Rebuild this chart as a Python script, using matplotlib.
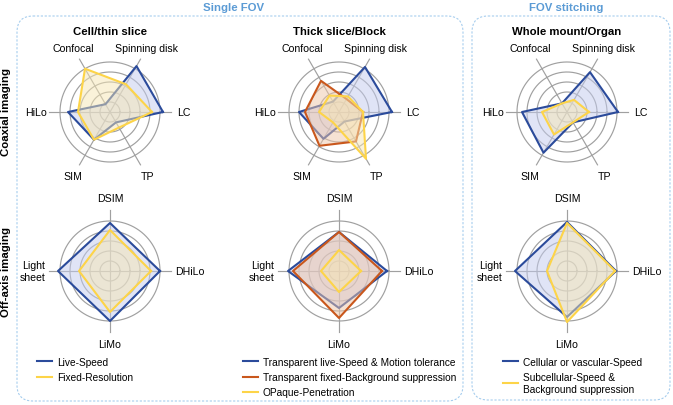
import matplotlib.pyplot as plt
import numpy as np
from matplotlib.patches import FancyBboxPatch

plt.rcParams['font.family'] = ['Liberation Sans', 'DejaVu Sans']

# axes of the radar charts
coax_labels = ['LC', 'Spinning disk', 'Confocal', 'HiLo', 'SIM', 'TP']
offaxis_labels = ['DHiLo', 'DSIM', 'Light\nsheet', 'LiMo']
ring_levels = [1, 2, 3, 4, 5]

# Cell/thin slice
cell_coax_live = [5.3, 5.3, 0.9, 4.2, 3.2, 1.2]
cell_coax_fixed = [4.2, 3.2, 5.0, 3.2, 3.2, 1.8]
cell_off_live = [5.0, 4.8, 5.2, 5.0]
cell_off_fixed = [4.1, 4.1, 3.1, 4.1]

# Thick slice/Block
thick_coax_live = [5.3, 5.2, 1.2, 4.0, 3.1, 1.1]
thick_coax_fixed = [2.4, 1.5, 3.6, 3.4, 3.9, 3.4]
thick_coax_opaque = [2.4, 1.8, 1.9, 2.0, 1.2, 5.4]
thick_off_live = [4.8, 3.9, 5.1, 3.7]
thick_off_fixed = [4.3, 3.9, 4.6, 4.7]
thick_off_opaque = [2.2, 2.1, 1.8, 2.1]

# Whole mount/Organ
whole_coax_cell = [5.1, 4.6, 1.0, 4.5, 4.7, 1.2]
whole_coax_sub = [2.2, 1.4, 1.0, 2.5, 2.6, 1.2]
whole_off_cell = [4.9, 4.9, 5.2, 4.6]
whole_off_sub = [4.8, 4.8, 2.0, 5.1]

legend_cell = ['Live-Speed', 'Fixed-Resolution']
legend_thick = ['Transparent live-Speed & Motion tolerance',
                'Transparent fixed-Background suppression',
                'OPaque-Penetration']
legend_whole = ['Cellular or vascular-Speed',
                'Subcellular-Speed &\nBackground suppression']

BLUE = ('#2b4b9b', '#c3cbee')
YELLOW = ('#fdd448', '#f6e6b4')
ORANGE = ('#c9571c', '#efc6a8')

W, H = 673, 406
fig = plt.figure(figsize=(W / 100, H / 100), dpi=100)

# background axes in pixel units for boxes and headings
bg = fig.add_axes([0, 0, 1, 1])
bg.set_xlim(0, W)
bg.set_ylim(H, 0)
bg.axis('off')

box_kw = dict(boxstyle='round,pad=0,rounding_size=16', fill=False,
              ec='#a6cdee', lw=0.8, ls=(0, (2, 1.5)))
bg.add_patch(FancyBboxPatch((17, 17), 446, 385, **box_kw))
bg.add_patch(FancyBboxPatch((472, 17), 198, 384, **box_kw))

bg.text(234, 8, 'Single FOV', ha='center', va='center', color='#5b9bd5',
        fontsize=8.2, fontweight='bold')
bg.text(566, 8, 'FOV stitching', ha='center', va='center', color='#5b9bd5',
        fontsize=8.2, fontweight='bold')
bg.text(6, 112, 'Coaxial imaging', rotation=90, ha='center', va='center',
        fontsize=8.2, fontweight='bold')
bg.text(6, 272, 'Off-axis imaging', rotation=90, ha='center', va='center',
        fontsize=8.2, fontweight='bold')

for x, t in zip([110, 339, 567], ['Cell/thin slice', 'Thick slice/Block', 'Whole mount/Organ']):
    bg.text(x, 32, t, ha='center', va='center', fontsize=8.2, fontweight='bold')

SCALE = 10  # pixels per unit
RMAX = 6.4


def radar(cx, cy, labels, series, colors):
    n = len(labels)
    theta = np.arange(n) * 2 * np.pi / n
    half = RMAX * SCALE
    ax = fig.add_axes([(cx - half) / W, (H - cy - half) / H, 2 * half / W, 2 * half / H],
                      projection='polar')
    ax.set_ylim(0, RMAX)
    ax.axis('off')
    tt = np.linspace(0, 2 * np.pi, 300)
    for r in ring_levels:
        ax.plot(tt, np.full_like(tt, r), color='#a0a0a0', lw=0.85, zorder=1)
    for th in theta:
        ax.plot([th, th], [0, 6.1], color='#a0a0a0', lw=0.85, zorder=1)
    lines = []
    for i, (vals, (lc, fc)) in enumerate(zip(series, colors)):
        t = np.append(theta, theta[0])
        v = np.append(vals, vals[0])
        ax.fill(t, v, color=fc, alpha=0.5, lw=0, zorder=2 + 2 * i)
        ln, = ax.plot(t, v, color=lc, lw=1.5, zorder=3 + 2 * i)
        lines.append(ln)
    for th, lab in zip(theta, labels):
        if n == 4 and abs(np.cos(th)) > 0.5:
            ha = 'left' if np.cos(th) > 0 else 'right'
            ax.text(th, 6.5, lab, ha=ha, va='center', fontsize=7.6, linespacing=1.2)
        elif n == 4:
            ax.text(th, 7.3, lab, ha='center', va='center', fontsize=7.6)
        else:
            ax.text(th, 7.4, lab, ha='center', va='center', fontsize=7.6)
    return ax, lines


def add_legend(ax, lines, labels, x, y):
    ax.legend(lines, labels, loc='upper left', bbox_to_anchor=(x / W, 1 - y / H),
              bbox_transform=fig.transFigure, frameon=False, fontsize=7.3,
              handlelength=1.5, handletextpad=0.45, labelspacing=0.5,
              borderpad=0, borderaxespad=0)


radar(110, 113, coax_labels, [cell_coax_live, cell_coax_fixed], [BLUE, YELLOW])
ax, ls = radar(110, 272, offaxis_labels, [cell_off_live, cell_off_fixed], [BLUE, YELLOW])
add_legend(ax, ls, legend_cell, 37, 358)

radar(339, 113, coax_labels, [thick_coax_live, thick_coax_fixed, thick_coax_opaque],
      [BLUE, ORANGE, YELLOW])
ax, ls = radar(339, 272, offaxis_labels, [thick_off_live, thick_off_fixed, thick_off_opaque],
               [BLUE, ORANGE, YELLOW])
add_legend(ax, ls, legend_thick, 243, 358)

radar(567, 113, coax_labels, [whole_coax_cell, whole_coax_sub], [BLUE, YELLOW])
ax, ls = radar(567, 272, offaxis_labels, [whole_off_cell, whole_off_sub], [BLUE, YELLOW])
add_legend(ax, ls, legend_whole, 503, 358)

fig.savefig('out.png', dpi=100)
